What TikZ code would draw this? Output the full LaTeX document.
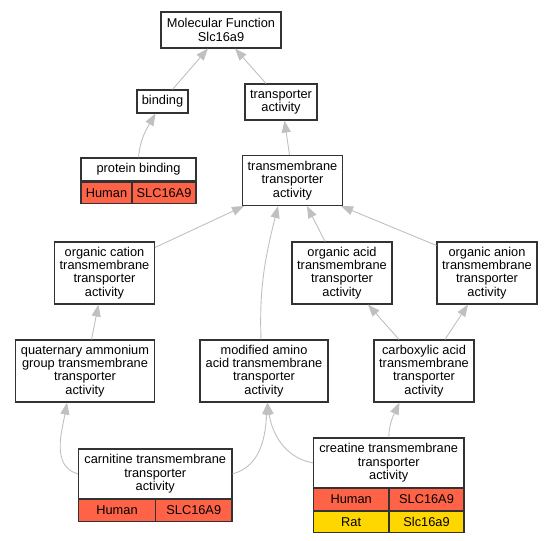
\documentclass[tikz,border=0pt]{standalone}
\usepackage{fontspec}
\setmainfont{Liberation Sans}
\usetikzlibrary{arrows.meta}
\definecolor{hitred}{HTML}{FF6347}
\definecolor{hityellow}{HTML}{FFD700}
\definecolor{edgegray}{HTML}{C0C0C0}
\tikzset{
  term/.style={draw=black!80, line width=1.1pt, fill=white, inner sep=0pt, align=center,
    font=\fontsize{12.8}{13.3}\selectfont},
  cell/.style={term, minimum height=21.5pt},
  isa/.style={draw=edgegray, line width=0.9pt, -{Triangle[length=12pt,width=9pt]}}
}
\begin{document}
\begin{tikzpicture}[x=1pt,y=-1pt]
         \useasboundingbox (0,0) rectangle (552,541);
         \node[term, minimum width=120pt, minimum height=36pt] (mf) at (221,30) {Molecular Function\\Slc16a9};
         \node[term, minimum width=51pt, minimum height=23pt] (binding) at (162.5,101.5) {binding};
         \node[term, minimum width=72pt, minimum height=36pt] (tact) at (281,102) {transporter\\activity};
         \node[term, minimum width=115pt, minimum height=23pt] (pb) at (138.5,169.5) {protein binding};
         \node[cell, fill=hitred, anchor=north west, minimum width=51pt] (pbh) at (pb.south west) {Human};
         \node[cell, fill=hitred, anchor=north east, minimum width=64pt] (pbg) at (pb.south east) {SLC16A9};
         \node[term, minimum width=100pt, minimum height=50pt] (tta) at (292.5,180.5) {transmembrane\\transporter\\activity};
         \node[term, minimum width=100pt, minimum height=62pt] (oc) at (104.5,273) {organic cation\\transmembrane\\transporter\\activity};
         \node[term, minimum width=100pt, minimum height=62pt] (oacid) at (342,273) {organic acid\\transmembrane\\transporter\\activity};
         \node[term, minimum width=100pt, minimum height=62pt] (oanion) at (487,273) {organic anion\\transmembrane\\transporter\\activity};
         \node[term, minimum width=139pt, minimum height=62pt] (quat) at (85,371) {quaternary ammonium\\group transmembrane\\transporter\\activity};
         \node[term, minimum width=128pt, minimum height=62pt] (mod) at (264,371) {modified amino\\acid transmembrane\\transporter\\activity};
         \node[term, minimum width=100pt, minimum height=62pt] (carb) at (424,371) {carboxylic acid\\transmembrane\\transporter\\activity};
         \node[term, minimum width=153.5pt, minimum height=49.7pt] (carn) at (155.25,473.85) {carnitine transmembrane\\transporter\\activity};
         \node[cell, fill=hitred, anchor=north west, minimum width=77pt] (carnh) at (carn.south west) {Human};
         \node[cell, fill=hitred, anchor=north east, minimum width=76.5pt] (carng) at (carn.south east) {SLC16A9};
         \node[term, minimum width=150.6pt, minimum height=49.7pt] (crea) at (388.7,462.85) {creatine transmembrane\\transporter\\activity};
         \node[cell, fill=hitred, anchor=north west, minimum width=75.6pt] (creah) at (crea.south west) {Human};
         \node[cell, fill=hitred, anchor=north east, minimum width=75pt] (creag) at (crea.south east) {SLC16A9};
         \node[cell, fill=hityellow, anchor=north west, minimum width=75.6pt] (crear) at (creah.south west) {Rat};
         \node[cell, fill=hityellow, anchor=north east, minimum width=75pt] (creas) at (creag.south east) {Slc16a9};
         \draw[isa] ([xshift=10pt]binding.north) -- ([xshift=-13pt]mf.south);
         \draw[isa] ([xshift=-15pt]tact.north) -- ([xshift=14pt]mf.south);
         \draw[isa] (pb.north) to[out=85,in=-120] ([xshift=-7pt]binding.south);
         \draw[isa] ([xshift=-3pt]tta.north) -- ([xshift=3.5pt]tact.south);
         \draw[isa] ([yshift=-6pt]oc.north east) -- ([xshift=2pt]tta.south west);
         \draw[isa] ([xshift=-3pt]mod.north) to[out=92,in=-104] ([xshift=-14.5pt]tta.south);
         \draw[isa] ([xshift=-17pt]oacid.north) -- ([xshift=14.5pt]tta.south);
         \draw[isa] ([yshift=-4pt]oanion.north west) -- ([xshift=-2pt]tta.south east);
         \draw[isa] ([xshift=6.5pt]quat.north) -- ([xshift=-6pt]oc.south);
         \draw[isa] ([xshift=-25pt]carb.north) -- ([xshift=26pt]oacid.south);
         \draw[isa] ([xshift=21pt]carb.north) -- ([xshift=-19pt]oanion.south);
         \draw[isa] (carn.west) to[out=165,in=-100] ([xshift=-18pt]quat.south);
         \draw[isa] (carn.east) to[out=15,in=-94] ([xshift=3.5pt]mod.south);
         \draw[isa] (crea.west) to[out=170,in=-82] ([xshift=3.5pt]mod.south);
         \draw[isa] (crea.north) to[out=88,in=-115] ([xshift=-24.5pt]carb.south);
      \end{tikzpicture}
\end{document}
